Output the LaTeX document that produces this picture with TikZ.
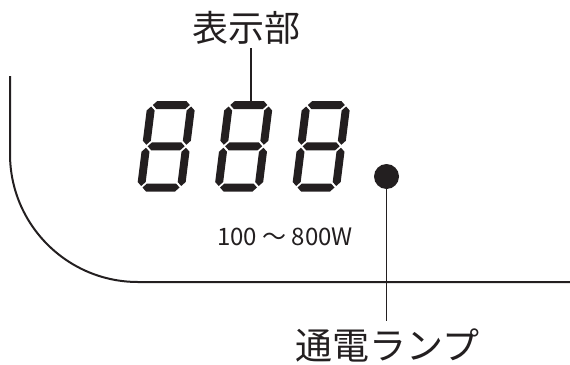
\documentclass[tikz,border=0pt]{standalone}
\usepackage{fontspec}
\setmainfont{Noto Sans CJK JP}
\newfontfamily\jpfont{Noto Sans CJK JP}
\definecolor{ink}{HTML}{231F20}
\newcommand\hseg[3]{\fill (#1,#3) -- ({#1+4},{#3-4}) -- ({#2-4},{#3-4}) -- (#2,#3) -- ({#2-4},{#3+4}) -- ({#1+4},{#3+4}) -- cycle;}
\newcommand\vseg[3]{\fill (#1,#2) -- ({#1+4},{#2+4}) -- ({#1+4},{#3-4}) -- (#1,#3) -- ({#1-4},{#3-4}) -- ({#1-4},{#2+4}) -- cycle;}
\newcommand\sevenseg[1]{%
  \begin{scope}[shift={#1}, xslant=0.125, ink]
    \hseg{1.5}{38.5}{-82.5}
    \hseg{1.5}{38.5}{-41.25}
    \hseg{1.5}{38.5}{0}
    \vseg{0}{-81}{-42.75}
    \vseg{40}{-81}{-42.75}
    \vseg{0}{-39.75}{-1.5}
    \vseg{40}{-39.75}{-1.5}
  \end{scope}}
\begin{document}
\begin{tikzpicture}[x=1pt,y=-1pt,
  label/.style={inner sep=0pt, font=\jpfont\fontsize{36}{40}\selectfont, text=ink},
  lead/.style={draw=ink, line width=1.4pt},
  frame/.style={draw=ink, line width=2pt}]
\useasboundingbox (0,0) rectangle (570,364);
% outer panel edge
\draw[frame] (10,76) -- (10,154) arc[start angle=180, end angle=90, radius=128] -- (570,282);
% digits
\sevenseg{(141,187.5)}
\sevenseg{(218.5,187.5)}
\sevenseg{(296,187.5)}
% labels
\node[label, anchor=base] (disp) at (246,41) {表示部};
\coordinate (ltop) at (251,48);
\coordinate (dtop) at (251,101);
\draw[lead] (ltop) -- (dtop);
\node[circle, fill=ink, minimum size=25pt, inner sep=0pt] (lamp) at (386.5,176.5) {};
\node[label, anchor=base, font=\jpfont\fontsize{37}{40}\selectfont] (lampl) at (387.5,359) {通電ランプ};
\coordinate (lbot) at (386.5,321);
\draw[lead] (lamp.center) -- (lbot);
\node[inner sep=0pt, anchor=base west, font=\jpfont\fontsize{24}{28}\selectfont, text=ink] (range) at (217,245) {100 ～ 800W};
\end{tikzpicture}
\end{document}
